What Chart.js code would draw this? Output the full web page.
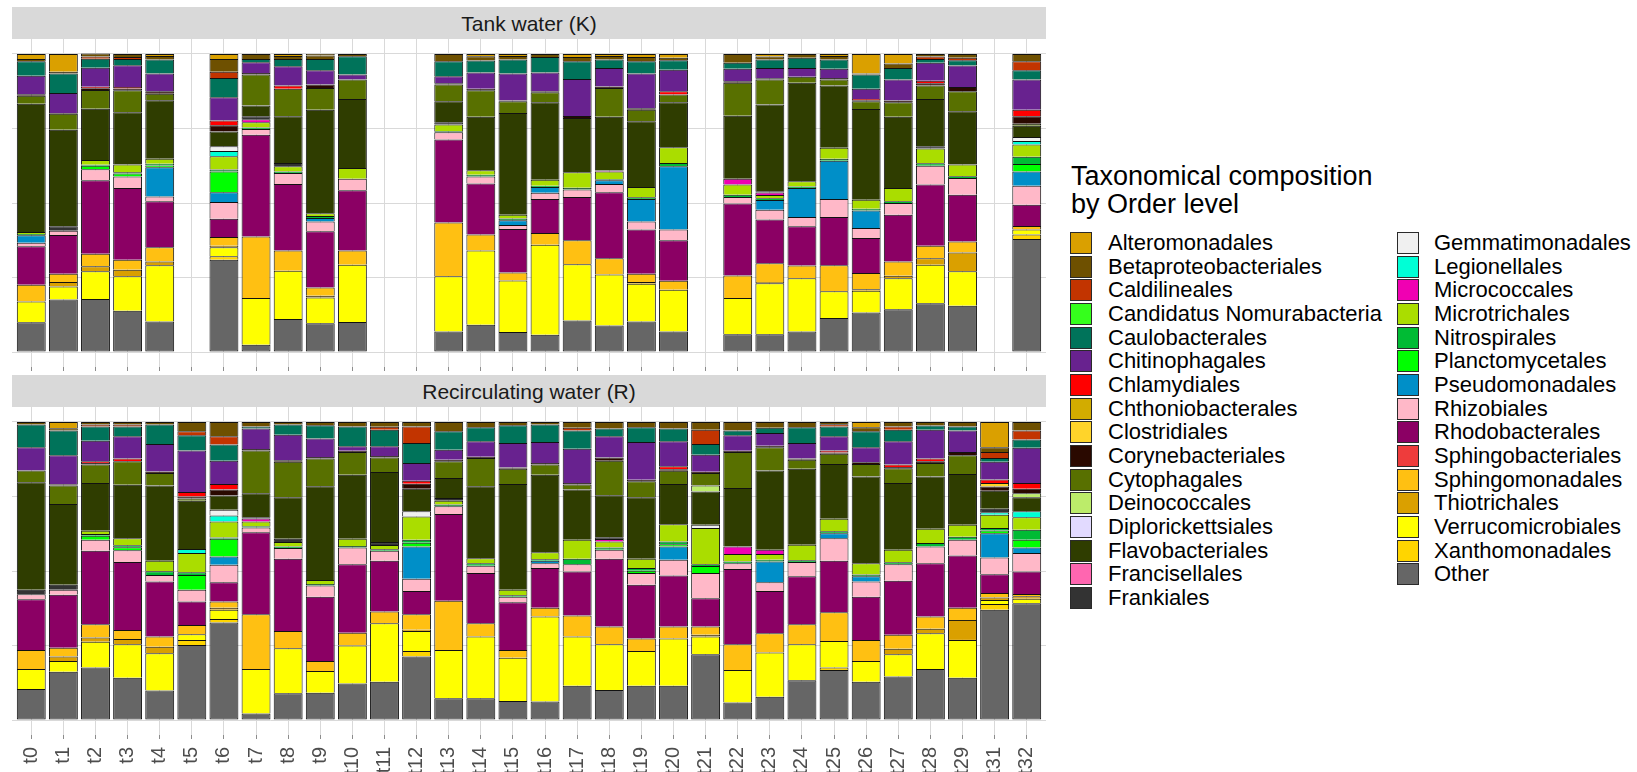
<!DOCTYPE html>
<html>
<head>
<meta charset="utf-8">
<title>Taxonomical composition by Order level</title>
<script src="https://cdn.jsdelivr.net/npm/chart.js@4.4.0/dist/chart.umd.min.js"></script>
<style>
  html, body { margin: 0; padding: 0; background: #ffffff; }
  body {
    width: 1637px; height: 772px; position: relative; overflow: hidden;
    font-family: "Liberation Sans", Arial, Helvetica, sans-serif;
  }
  .strip {
    position: absolute; left: 12px; width: 1034px; height: 32px;
    background: #d9d9d9; color: #1a1a1a; font-size: 21px; line-height: 34px;
    text-align: center; white-space: nowrap;
  }
  .panel { position: absolute; left: 0; }
  #legend-title {
    position: absolute; left: 1071px; top: 162px;
    font-size: 27px; line-height: 28px; color: #000; white-space: nowrap;
  }
  .key {
    position: absolute; width: 20px; height: 20px;
    border: 1px solid #2a2a2a; box-sizing: content-box;
  }
  .lab {
    position: absolute; font-size: 22px; line-height: 22px;
    color: #000; white-space: nowrap;
  }
</style>
</head>
<body>
<div class="strip" style="top:7px">Tank water (K)</div>
<div class="panel" style="top:39px"><canvas id="tank" width="1046" height="332"></canvas></div>
<div class="strip" style="top:375px">Recirculating water (R)</div>
<div class="panel" style="top:407px"><canvas id="recirc" width="1046" height="365"></canvas></div>
<div id="legend-title">Taxonomical composition<br>by Order level</div>
<div id="legend"></div>

<script>
// Sampling points (t30 was not sampled)
const categories = ['t0','t1','t2','t3','t4','t5','t6','t7','t8','t9',
  't10','t11','t12','t13','t14','t15','t16','t17','t18','t19',
  't20','t21','t22','t23','t24','t25','t26','t27','t28','t29','t31','t32'];

const yTicks = [0, 0.25, 0.5, 0.75, 1];

// Orders in legend order (top of each bar first)
const orders = ['Alteromonadales','Betaproteobacteriales','Caldilineales','Candidatus Nomurabacteria',
  'Caulobacterales','Chitinophagales','Chlamydiales','Chthoniobacterales','Clostridiales',
  'Corynebacteriales','Cytophagales','Deinococcales','Diplorickettsiales','Flavobacteriales',
  'Francisellales','Frankiales','Gemmatimonadales','Legionellales','Micrococcales','Microtrichales',
  'Nitrospirales','Planctomycetales','Pseudomonadales','Rhizobiales','Rhodobacterales',
  'Sphingobacteriales','Sphingomonadales','Thiotrichales','Verrucomicrobiales','Xanthomonadales','Other'];

const orderColors = ['#DAA000','#6E5000','#C23400','#35FF1C',
  '#00735A','#68228F','#FF0000','#D2AC00','#FFD42A',
  '#2A0900','#587000','#BCEC6A','#E2DAFF','#2F3D00',
  '#FF66B0','#333333','#F0F0F0','#00FFD6','#F000B2','#AADD00',
  '#00BB34','#00FF00','#008FC8','#FFB8C8','#8B0064',
  '#EE3C3C','#FFC012','#DAA000','#FFFF00','#FFD500','#666666'];

const n = null; // no tank sample at this time point

// ---- Tank water (K): relative abundance per order ----
const tankAlteromonadales        = [.017,.060,0,0,.007,n,.017,0,.007,.005,0,n,n,0,.008,.007,0,.010,.007,.010,.013,n,0,.009,0,.007,.066,.032,0,0,n,0];
const tankBetaproteobacteriales  = [.008,.006,.010,.010,.012,n,.043,.017,.010,.012,.008,n,n,.025,.014,.012,.010,.015,.012,.015,.008,n,.030,.010,.013,.012,.003,.015,.009,.013,n,.025];
const tankCaldilineales          = [0,0,.007,.007,0,n,.021,0,0,0,0,n,n,0,0,0,0,0,0,0,0,n,0,0,0,0,0,0,.008,.008,n,.030];
const tankCandidatusNomurabacteria = [0,0,0,0,0,n,0,0,0,0,0,n,n,0,0,0,0,0,0,0,0,n,0,0,0,0,0,0,0,0,n,0];
const tankCaulobacterales        = [.048,.065,.030,.021,.047,n,.064,.011,.024,.038,.061,n,n,.050,.040,.047,.052,.059,.028,.041,.032,n,.020,.028,.034,.031,.048,.039,.013,.018,n,.031];
const tankChitinophagales        = [.062,.067,.064,.073,.059,n,.078,.036,.065,.048,.017,n,n,.023,.055,.090,.063,.124,.062,.116,.072,n,.042,.035,.030,.031,.034,.070,.060,.072,n,.101];
const tankChlamydiales           = [0,0,.005,.005,0,n,.016,0,.011,0,0,n,n,0,0,0,0,0,0,0,.011,n,0,0,0,0,.004,0,.008,0,n,.022];
const tankChthoniobacterales     = [0,0,0,0,0,n,0,0,0,0,0,n,n,0,0,0,0,0,0,0,0,n,0,0,0,0,0,0,0,0,n,0];
const tankClostridiales          = [0,0,0,0,0,n,0,0,0,0,0,n,n,0,0,0,0,0,0,0,0,n,0,0,0,0,0,0,0,0,n,0];
const tankCorynebacteriales      = [.005,.003,.006,.006,.009,n,.021,.005,0,.011,0,n,n,.005,.005,.003,.004,.007,.005,.005,0,n,.005,.004,0,.005,.004,.006,.008,.014,n,.025];
const tankCytophagales           = [.027,.053,.063,.074,.021,n,0,.104,.092,.073,.065,n,n,.056,.089,.039,.033,0,.097,.039,.026,n,.110,.084,.020,.020,.026,.049,.045,.067,n,.007];
const tankDeinococcales          = [0,0,0,0,0,n,0,0,0,0,0,n,n,0,0,0,0,0,0,0,0,n,0,0,0,0,0,0,0,0,n,0];
const tankDiplorickettsiales     = [0,0,0,0,0,n,0,0,0,0,0,n,n,0,0,0,0,0,0,0,0,n,0,0,0,0,0,0,0,0,n,0];
const tankFlavobacteriales       = [.430,.324,.172,.175,.197,n,.050,.036,.157,.347,.232,n,n,.070,.179,.341,.260,.182,.180,.220,.151,n,.212,.291,.330,.209,.304,.239,.159,.179,n,.038];
const tankFrancisellales         = [0,0,0,0,0,n,0,0,0,0,0,n,n,0,0,0,0,0,0,0,0,n,0,0,0,0,0,0,0,0,n,0];
const tankFrankiales             = [0,.015,0,0,0,n,0,.010,.011,0,0,n,n,.008,0,0,0,0,0,0,0,n,0,.004,0,0,0,0,.007,0,n,0];
const tankGemmatimonadales       = [0,0,0,0,0,n,.016,0,0,0,0,n,n,0,0,0,0,0,0,0,0,n,0,0,0,0,0,0,0,0,n,.013];
const tankLegionellales          = [0,0,0,0,0,n,.017,0,0,0,0,n,n,0,0,0,0,0,0,0,0,n,0,0,0,0,0,0,0,0,n,.012];
const tankMicrococcales          = [0,0,0,0,0,n,0,.010,0,0,0,n,n,0,0,0,0,0,.003,0,0,n,.019,.008,0,0,0,0,0,0,n,0];
const tankMicrotrichales         = [.007,0,.016,.026,.016,n,.045,.018,.017,.010,.036,n,n,.022,.015,.013,.020,.052,.026,.035,.053,n,.034,.011,.018,.037,.030,.044,.050,.039,n,.041];
const tankNitrospirales          = [.004,0,.003,.004,.006,n,.006,.005,.005,.006,0,n,n,.004,.006,.006,.004,.006,.004,.006,.011,n,.008,.006,.005,.006,.006,.006,.008,.006,n,.024];
const tankPlanctomycetales       = [0,0,.012,.010,.006,n,.070,0,0,0,0,n,n,0,0,0,0,0,0,0,0,n,0,0,0,0,0,0,0,0,n,.025];
const tankPseudomonadales        = [.025,0,0,0,.098,n,.033,0,0,.012,0,n,n,0,0,.016,.020,0,.012,.075,.212,n,0,.033,.097,.129,.059,0,0,0,n,.048];
const tankRhizobiales            = [.012,.014,.037,.039,.016,n,.056,.019,.037,.033,.038,n,n,.024,.024,.013,.021,.025,.028,.027,.036,n,.022,.032,.031,.060,.033,.039,.063,.056,n,.064];
const tankRhodobacterales        = [.129,.130,.246,.240,.154,n,.061,.341,.223,.188,.202,n,n,.278,.171,.146,.114,.145,.221,.148,.136,n,.241,.147,.132,.162,.118,.157,.205,.157,n,.071];
const tankSphingobacteriales     = [0,0,0,0,0,n,0,0,0,0,0,n,n,0,0,0,0,0,0,0,0,n,0,0,0,0,0,0,0,0,n,0];
const tankSphingomonadales       = [.056,.028,.042,.034,.048,n,.029,.207,.068,.028,.048,n,n,.181,.053,.027,.039,.080,.055,.028,.030,n,.076,.063,.042,.087,.054,.048,.042,.037,n,.012];
const tankThiotrichales          = [0,.015,.017,.022,.013,n,.005,0,0,.006,0,n,n,0,0,0,0,0,0,.006,0,n,0,.004,0,0,.005,.008,.022,.063,n,0];
const tankVerrucomicrobiales     = [.070,.044,.093,.115,.188,n,.031,.156,.162,.086,.192,n,n,.185,.249,.173,.302,.189,.171,.126,.140,n,.121,.171,.179,.090,.073,.104,.129,.116,n,.017];
const tankXanthomonadales        = [0,0,0,0,0,n,.011,0,0,0,0,n,n,0,0,0,0,0,0,0,0,n,0,0,0,0,0,0,0,0,n,.015];
const tankOther                  = [.100,.176,.178,.139,.103,n,.310,.025,.111,.097,.101,n,n,.069,.092,.067,.058,.106,.089,.103,.069,n,.060,.060,.069,.114,.133,.144,.164,.155,n,.379];

// ---- Recirculating water (R): relative abundance per order ----
const recircAlteromonadales        = [0,.021,0,0,0,0,0,0,0,0, 0,0,0,0,0,0,0,0,0,0, 0,0,0,0,0,0,.018,0,0,0, .085,0];
const recircBetaproteobacteriales  = [.009,.008,.009,.009,.009,.031,.048,.015,.009,.011, .015,.016,.015,.031,.018,.011,.009,.020,.022,.018, .022,.026,.029,.020,.018,.008,.013,.015,.012,.015, .016,.029];
const recircCaldilineales          = [0,0,.006,.006,0,.014,.028,0,0,0, 0,.010,.056,0,0,0,0,.009,0,0, 0,.048,0,0,0,.007,0,.011,0,0, .020,.030];
const recircCandidatusNomurabacteria = [0,0,0,0,0,0,0,0,0,0, 0,0,0,0,0,0,0,0,0,0, 0,0,0,0,0,0,0,0,0,0, 0,0];
const recircCaulobacterales        = [.076,.083,.048,.033,.065,.051,.054,.007,.034,.045, .067,.056,.067,.062,.047,.060,.058,.061,.026,.049, .043,.036,.016,.017,.053,.033,.054,.039,.014,.014, .013,.028];
const recircChitinophagales        = [.078,.097,.069,.075,.092,.139,.078,.069,.086,.062, .015,.032,.059,.034,.052,.082,.071,.115,.071,.127, .084,.057,.052,.043,.052,.048,.050,.078,.097,.072, .059,.118];
const recircChlamydiales           = [0,0,.006,.009,0,.015,.019,0,0,0, 0,0,.010,0,0,0,0,0,0,0, .010,0,0,0,0,.007,0,.008,.009,0, .012,.019];
const recircChthoniobacterales     = [0,0,0,0,0,0,0,0,0,0, 0,0,0,0,0,0,0,0,0,0, 0,0,0,0,0,0,0,0,0,0, 0,0];
const recircClostridiales          = [0,0,0,0,0,0,0,0,0,0, 0,0,0,0,0,0,0,0,0,0, 0,0,0,0,0,0,0,0,0,0, .012,0];
const recircCorynebacteriales      = [0,.004,.005,0,.005,.007,.020,.005,.005,.005, .004,.005,.017,.005,.004,.004,.005,.005,.011,.005, .005,.004,.004,.005,.004,.004,.006,.004,.006,.011, .014,.015];
const recircCytophagales           = [.039,.062,.062,.079,.042,.007,0,.143,.119,.093, .076,.049,0,.056,.095,.051,.034,.017,.116,.054, .044,.042,.121,.078,.030,.034,.042,.050,.045,.063, 0,0];
const recircDeinococcales          = [0,0,0,0,0,0,0,0,0,0, 0,0,0,0,0,0,0,0,0,0, 0,.020,0,0,0,0,0,0,0,0, 0,.014];
const recircDiplorickettsiales     = [0,0,0,0,0,0,0,0,0,0, 0,0,0,0,0,0,0,0,0,0, 0,0,0,0,0,0,0,0,0,0, 0,0];
const recircFlavobacteriales       = [.361,.271,.160,.179,.253,.162,.048,.081,.139,.314, .215,.235,.076,.067,.241,.355,.260,.168,.141,.206, .135,.112,.196,.266,.255,.184,.291,.224,.175,.170, .060,.047];
const recircFrancisellales         = [0,0,0,0,0,0,0,0,0,0, 0,0,0,0,0,0,0,0,0,0, 0,0,0,0,0,0,0,0,0,0, 0,0];
const recircFrankiales             = [.015,.017,0,0,0,0,0,.004,.011,0, 0,.010,0,.009,0,0,0,0,.006,0, 0,0,0,0,0,0,0,0,0,0, .012,0];
const recircGemmatimonadales       = [0,0,0,0,0,0,.019,0,0,0, 0,0,.017,0,0,0,0,0,0,0, 0,.011,0,0,0,0,0,0,0,0, 0,0];
const recircLegionellales          = [0,0,0,0,0,.014,.020,0,0,0, 0,0,0,0,0,0,0,0,0,0, 0,0,0,0,0,0,0,0,0,0, .008,.020];
const recircMicrococcales          = [0,0,0,0,0,0,0,.010,0,0, 0,0,0,0,0,0,0,0,.008,0, 0,0,.025,.014,0,0,0,0,0,0, 0,0];
const recircMicrotrichales         = [0,0,.011,.024,.035,.064,.054,.016,.015,.014, .024,.014,.078,.013,.017,.018,.024,.064,.020,.031, .058,.121,.025,.019,.052,.042,.038,.042,.048,.040, .045,.042];
const recircNitrospirales          = [0,0,.006,.006,.012,.009,.004,.004,.005,.005, .005,.005,.010,.006,.008,.005,.005,.018,.008,.009, .009,.006,.006,.006,.006,.006,.006,.006,.012,.010, .008,.033];
const recircPlanctomycetales       = [0,0,.013,.010,0,.050,.059,0,0,0, 0,0,.013,0,0,0,0,0,0,.008, .008,.024,0,0,0,0,0,0,0,0, .009,.026];
const recircPseudomonadales        = [0,0,0,0,0,0,.028,0,0,0, 0,0,.108,0,0,0,.008,0,0,0, .044,0,0,.070,0,.017,.017,0,0,0, .082,.019];
const recircRhizobiales            = [.017,.017,.037,.040,.022,.039,.059,.016,.036,.037, .056,.034,.041,.026,.025,.019,.016,.025,.030,.039, .053,.084,.019,.029,.048,.076,.051,.056,.056,.053, .056,.062];
const recircRhodobacterales        = [.170,.177,.247,.228,.185,.079,.064,.275,.242,.216, .230,.170,.078,.291,.168,.160,.133,.147,.227,.180, .171,.095,.253,.142,.161,.172,.145,.181,.179,.175, .063,.075];
const recircSphingobacteriales     = [0,0,0,0,0,0,0,0,0,0, 0,0,0,0,0,0,0,0,0,0, 0,0,0,0,0,0,0,0,0,0, 0,0];
const recircSphingomonadales       = [.064,.030,.044,.030,.034,.031,.021,.184,.058,.033, .043,.039,.052,.165,.045,.026,.030,.071,.060,.042, .040,.028,.086,.064,.067,.097,.071,.047,.041,.041, .015,.008];
const recircThiotrichales          = [0,.015,.014,.018,.022,0,.007,0,0,0, 0,0,.004,0,0,0,0,0,0,0, 0,.006,0,0,0,0,0,.018,.015,.067, .008,.008];
const recircVerrucomicrobiales     = [.067,.036,.087,.112,.125,.019,.031,.149,.151,.073, .127,.196,.067,.162,.207,.145,.285,.165,.153,.117, .159,.059,.109,.149,.120,.089,.069,.075,.120,.127, .014,.015];
const recircXanthomonadales        = [0,0,0,0,0,.017,.012,0,0,0, 0,0,.019,0,0,0,0,0,0,0, 0,0,0,0,0,.008,0,0,0,0, .019,0];
const recircOther                  = [.104,.162,.176,.142,.099,.252,.327,.022,.090,.092, .123,.129,.213,.073,.073,.064,.062,.115,.101,.115, .115,.221,.059,.078,.134,.168,.129,.146,.171,.142, .370,.392];

// Lookup tables (same order as `orders`)
const tankTable = [tankAlteromonadales, tankBetaproteobacteriales, tankCaldilineales, tankCandidatusNomurabacteria,
  tankCaulobacterales, tankChitinophagales, tankChlamydiales, tankChthoniobacterales, tankClostridiales,
  tankCorynebacteriales, tankCytophagales, tankDeinococcales, tankDiplorickettsiales, tankFlavobacteriales,
  tankFrancisellales, tankFrankiales, tankGemmatimonadales, tankLegionellales, tankMicrococcales, tankMicrotrichales,
  tankNitrospirales, tankPlanctomycetales, tankPseudomonadales, tankRhizobiales, tankRhodobacterales,
  tankSphingobacteriales, tankSphingomonadales, tankThiotrichales, tankVerrucomicrobiales, tankXanthomonadales, tankOther];

const recircTable = [recircAlteromonadales, recircBetaproteobacteriales, recircCaldilineales, recircCandidatusNomurabacteria,
  recircCaulobacterales, recircChitinophagales, recircChlamydiales, recircChthoniobacterales, recircClostridiales,
  recircCorynebacteriales, recircCytophagales, recircDeinococcales, recircDiplorickettsiales, recircFlavobacteriales,
  recircFrancisellales, recircFrankiales, recircGemmatimonadales, recircLegionellales, recircMicrococcales, recircMicrotrichales,
  recircNitrospirales, recircPlanctomycetales, recircPseudomonadales, recircRhizobiales, recircRhodobacterales,
  recircSphingobacteriales, recircSphingomonadales, recircThiotrichales, recircVerrucomicrobiales, recircXanthomonadales, recircOther];

Chart.defaults.font.family = '"Liberation Sans", Arial, Helvetica, sans-serif';

const gridColor = '#d9d9d9';
const outline = '#111111';

function buildDatasets(table) {
  // Stack from the bottom: "Other" first, the first legend entry ends up on top
  const sets = [];
  for (let k = orders.length - 1; k >= 0; k--) {
    const isBase = orders[k] === 'Other';
    sets.push({
      label: orders[k],
      data: table[k].map((v, i) => ({ x: i, y: v })).filter(p => p.y),
      backgroundColor: orderColors[k],
      borderColor: outline,
      borderWidth: isBase ? 1 : { top: 1, left: 1, right: 1, bottom: 0 },
      borderSkipped: false,
      barPercentage: 0.9,
      categoryPercentage: 1
    });
  }
  return sets;
}

function makePanel(canvasId, table, axisHeight, showLabels) {
  return new Chart(document.getElementById(canvasId), {
    type: 'bar',
    data: { datasets: buildDatasets(table) },
    options: {
      responsive: false,
      animation: false,
      devicePixelRatio: 1,
      layout: { padding: 0 },
      plugins: { legend: { display: false }, tooltip: { enabled: false } },
      scales: {
        x: {
          type: 'linear',
          min: -0.6,
          max: categories.length - 1 + 0.6,
          stacked: true,
          offset: false,
          afterBuildTicks: s => { s.ticks = categories.map((c, i) => ({ value: i })); },
          afterFit: s => { s.height = axisHeight; s.paddingLeft = 0; s.paddingRight = 0; },
          grid: { offset: false, color: gridColor, lineWidth: 1, drawTicks: true, tickLength: 4, tickColor: '#8c8c8c' },
          border: { display: false },
          ticks: {
            display: showLabels, autoSkip: false, minRotation: 90, maxRotation: 90, padding: 8,
            color: '#4d4d4d', font: { size: 20 },
            callback: v => categories[v]
          }
        },
        y: {
          min: -0.05,
          max: 1.05,
          stacked: true,
          afterBuildTicks: s => { s.ticks = yTicks.map(v => ({ value: v })); },
          afterFit: s => { s.width = 12; s.paddingTop = 0; s.paddingBottom = 0; },
          grid: { color: gridColor, lineWidth: 1, drawTicks: false },
          border: { display: false },
          ticks: { display: false }
        }
      }
    }
  });
}

makePanel('tank', tankTable, 4, false);
makePanel('recirc', recircTable, 37, true);

// Two-column legend
const legend = document.getElementById('legend');
orders.forEach((name, k) => {
  const col = k < 16 ? 0 : 1;
  const row = col ? k - 16 : k;
  const top = 232 + row * 23.65;
  const key = document.createElement('div');
  key.className = 'key';
  key.style.left = (col ? 1397 : 1070) + 'px';
  key.style.top = top.toFixed(1) + 'px';
  key.style.background = orderColors[k];
  legend.appendChild(key);
  const lab = document.createElement('div');
  lab.className = 'lab';
  lab.style.left = (col ? 1434 : 1108) + 'px';
  lab.style.top = top.toFixed(1) + 'px';
  lab.textContent = name;
  legend.appendChild(lab);
});
</script>
</body>
</html>
